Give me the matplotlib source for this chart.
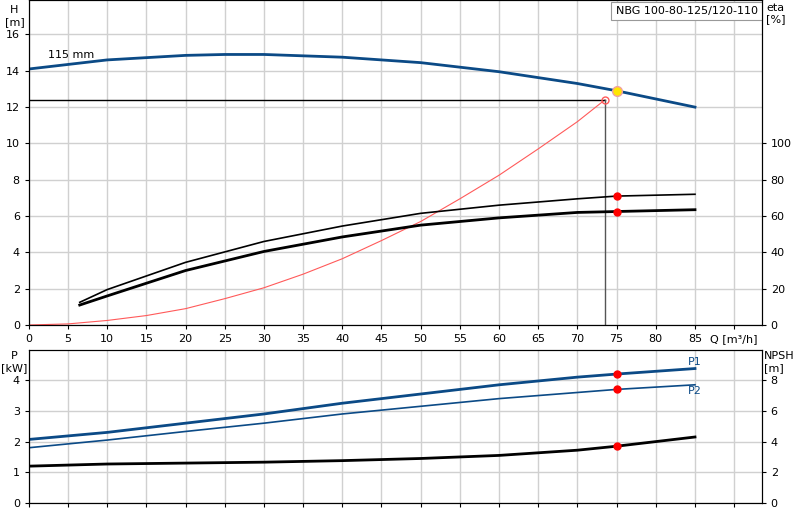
import matplotlib
matplotlib.use("Agg")
import matplotlib.pyplot as plt
import numpy as np

q_h = [0, 10, 20, 25, 30, 40, 50, 60, 70, 75, 85]
h = [14.1, 14.6, 14.85, 14.9, 14.9, 14.75, 14.45, 13.95, 13.3, 12.9, 12.0]
q_eta = [6.5, 10, 20, 30, 40, 50, 60, 70, 75, 85]
eta_hyd = [12.5, 19.5, 34.5, 46, 54.5, 61.5, 66, 69.5, 71, 72]
eta_tot = [11, 16, 30, 40.5, 48.5, 55, 59, 62, 62.5, 63.5]
q_sys = [0, 5, 10, 15, 20, 25, 30, 35, 40, 45, 50, 55, 60, 65, 70, 73.5]
h_sys = [0, 0.06, 0.25, 0.52, 0.9, 1.45, 2.05, 2.8, 3.65, 4.65, 5.7, 6.95, 8.25, 9.7, 11.2, 12.4]
duty_q, duty_h = 73.5, 12.4
op_q, op_h = 75, 12.9
q_p = [0, 10, 20, 30, 40, 50, 60, 70, 75, 85]
p1 = [2.07, 2.3, 2.6, 2.9, 3.25, 3.55, 3.85, 4.1, 4.2, 4.38]
p2 = [1.8, 2.05, 2.33, 2.6, 2.9, 3.15, 3.4, 3.6, 3.7, 3.85]
npsh = [2.4, 2.54, 2.6, 2.66, 2.76, 2.9, 3.1, 3.44, 3.7, 4.3]

blue = "#0b4a86"
gc = "#d0d0d0"
fs = 8
fig = plt.figure(figsize=(8, 5.2), dpi=100)
ax = fig.add_axes([0.036, 0.375, 0.916, 0.625])
ax.set_xlim(0, 93.5); ax.set_ylim(0, 17.9)
ax.set_xticks(np.arange(0, 95, 5)); ax.set_yticks(np.arange(0, 17, 2))
ax.set_xticklabels([str(v) for v in range(0, 90, 5)] + ["Q [m³/h]"], fontsize=fs)
ax.tick_params(labelsize=fs, length=3)
ax.grid(True, color=gc, lw=1)
ax.set_axisbelow(True)
ax.plot(q_h, h, color=blue, lw=2)
ax.plot(q_sys, h_sys, color="#ff5a5a", lw=0.8)
ax.plot([0, duty_q], [duty_h, duty_h], color="black", lw=1)
ax.plot([duty_q, duty_q], [0, duty_h], color="#555555", lw=1)
ax.plot(duty_q, duty_h, 'o', mfc="none", mec="#ff5a5a", ms=5)
ax.plot(op_q, op_h, 'o', color="#ffe600", mec="#f0a0a0", ms=7, zorder=5)
ax.plot(q_eta, np.array(eta_hyd) / 10, color="black", lw=1.2)
ax.plot(q_eta, np.array(eta_tot) / 10, color="black", lw=2)
ax.plot([75, 75], [7.1, 6.25], 'o', color="red", ms=5, ls="none", zorder=5)
ax.text(2.5, 14.7, "115 mm", fontsize=fs)
ax.text(93.0, 17.3, "NBG 100-80-125/120-110", fontsize=fs, va="center", ha="right",
        bbox=dict(fc="white", ec="#999999", lw=0.8, pad=3), zorder=6)
ax2 = ax.twinx()
ax2.set_ylim(0, 179)
ax2.set_yticks(np.arange(0, 101, 20))
ax2.tick_params(labelsize=fs, length=3)
fig.text(0.018, 0.99, "H\n[m]", fontsize=fs, ha="center", va="top")
fig.text(0.958, 0.995, "eta\n[%]", fontsize=fs, ha="left", va="top")

bx = fig.add_axes([0.036, 0.0327, 0.916, 0.294])
bx.set_xlim(0, 93.5); bx.set_ylim(0, 4.98)
bx.set_xticks(np.arange(0, 95, 5)); bx.set_xticklabels([])
bx.set_yticks(range(5))
bx.tick_params(labelsize=fs, length=3)
bx.grid(True, color=gc, lw=1)
bx.set_axisbelow(True)
bx.plot(q_p, p1, color=blue, lw=2)
bx.plot(q_p, p2, color=blue, lw=1.2)
bx.plot(q_p, np.array(npsh) / 2, color="black", lw=2)
bx.plot([75, 75, 75], [4.2, 3.7, 1.85], 'o', color="red", ms=5, ls="none", zorder=5)
bx.text(85, 4.5, "P1", color=blue, fontsize=fs, ha="center")
bx.text(85, 3.55, "P2", color=blue, fontsize=fs, ha="center")
bx2 = bx.twinx()
bx2.set_ylim(0, 9.96); bx2.set_yticks(range(0, 9, 2))
bx2.tick_params(labelsize=fs, length=3)
fig.text(0.018, 0.325, "P\n[kW]", fontsize=fs, ha="center", va="top")
fig.text(0.955, 0.325, "NPSH\n[m]", fontsize=fs, ha="left", va="top")
fig.savefig("out.png")
